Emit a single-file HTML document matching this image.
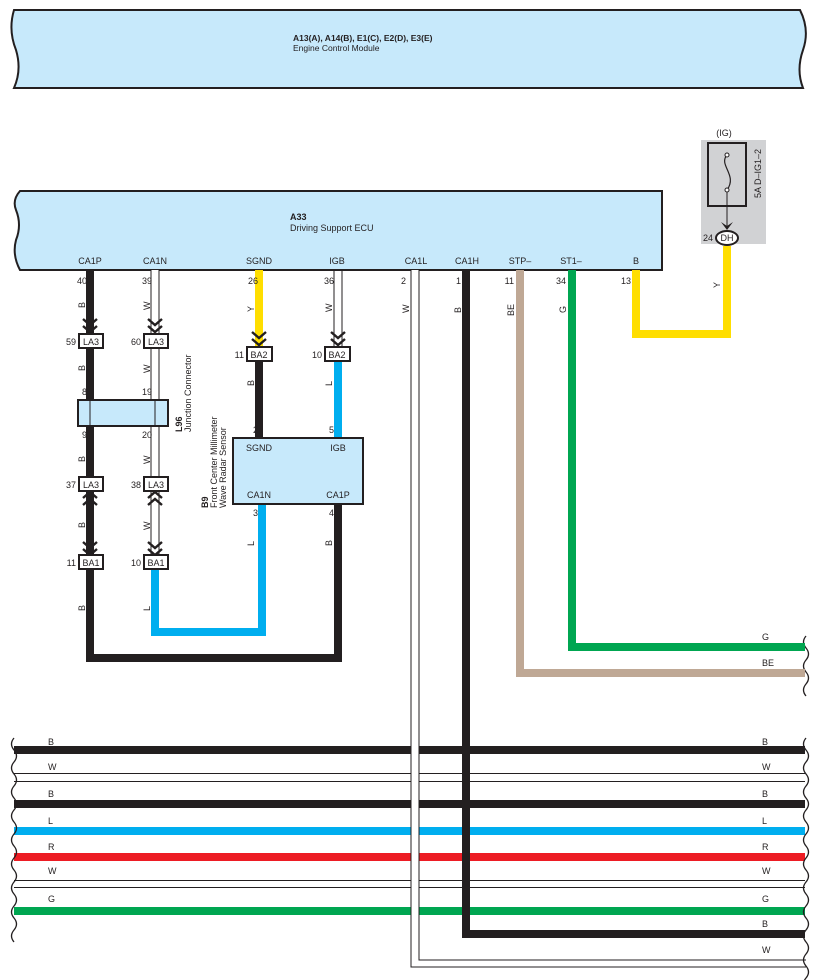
<!DOCTYPE html>
<html><head><meta charset="utf-8"><style>
html,body{margin:0;padding:0;background:#fff}
svg{display:block}
text{font-family:"Liberation Sans",sans-serif;font-size:9px;fill:#231f20}
</style></head><body>
<svg width="818" height="980" viewBox="0 0 818 980" xmlns="http://www.w3.org/2000/svg">
<defs>
<g id="chevD"><polyline points="-7,-13 0,-7 7,-13" fill="none" stroke="#231f20" stroke-width="2.4"/><polyline points="-7,-6 0,0 7,-6" fill="none" stroke="#231f20" stroke-width="2.4"/></g>
<g id="chevU"><polyline points="-7,13 0,7 7,13" fill="none" stroke="#231f20" stroke-width="2.4"/><polyline points="-7,6 0,0 7,6" fill="none" stroke="#231f20" stroke-width="2.4"/></g>
</defs>
<path d="M14,10 L800,10 Q810,30 803,50 Q796,70 803,88 L14,88 Q22,70 16,50 Q8,30 14,10 Z" fill="#c7e9fb" stroke="#231f20" stroke-width="2"/>
<text x="293" y="41" font-weight="bold" style="font-size:8.5px">A13(A), A14(B), E1(C), E2(D), E3(E)</text>
<text x="293" y="51" style="font-size:8.5px">Engine Control Module</text>
<path d="M20,191 L662,191 L662,270 L20,270 Q12,255 16,240 Q22,225 16,210 Q12,200 20,191 Z" fill="#c7e9fb" stroke="#231f20" stroke-width="2"/>
<text x="290" y="220" font-weight="bold">A33</text>
<text x="290" y="231">Driving Support ECU</text>
<g text-anchor="middle">
<text x="90" y="264">CA1P</text><text x="155" y="264">CA1N</text><text x="259" y="264">SGND</text><text x="337" y="264">IGB</text>
<text x="416" y="264">CA1L</text><text x="467" y="264">CA1H</text><text x="520" y="264">STP–</text><text x="571" y="264">ST1–</text><text x="636" y="264">B</text>
</g>
<rect x="701" y="140" width="65" height="104" fill="#d1d2d4"/>
<text x="724" y="136" text-anchor="middle">(IG)</text>
<rect x="708" y="143" width="38" height="63" fill="#d1d2d4" stroke="#231f20" stroke-width="2"/>
<path d="M727,155 C718,165 738,175 727,190" fill="none" stroke="#231f20" stroke-width="1.2"/>
<circle cx="727" cy="155" r="2" fill="#fff" stroke="#231f20"/><circle cx="727" cy="190" r="2" fill="#fff" stroke="#231f20"/>
<line x1="727" y1="192" x2="727" y2="228" stroke="#231f20" stroke-width="1"/>
<polygon points="721,222 727,230 733,222 727,226" fill="#231f20"/>
<text x="761" y="198" transform="rotate(-90 761 198)">5A D–IG1–2</text>
<g stroke-width="8">
<line x1="14" y1="750" x2="805" y2="750" stroke="#231f20"/>
<line x1="14" y1="804" x2="805" y2="804" stroke="#231f20"/>
<line x1="14" y1="831" x2="805" y2="831" stroke="#00aeef"/>
<line x1="14" y1="857" x2="805" y2="857" stroke="#ed1c24"/>
<line x1="14" y1="911" x2="805" y2="911" stroke="#00a651"/>
</g>
<g stroke="#231f20" stroke-width="1">
<line x1="14" y1="773.5" x2="805" y2="773.5"/><line x1="14" y1="781.5" x2="805" y2="781.5"/>
<line x1="14" y1="880.5" x2="805" y2="880.5"/><line x1="14" y1="887.5" x2="805" y2="887.5"/>
</g>
<g fill="none" stroke="#231f20" stroke-width="1.3">
<path d="M14,738 q-5,6 0,12 q5,6 0,12 q-5,6 0,12 q5,6 0,12 q-5,6 0,12 q5,6 0,12 q-5,6 0,12 q5,6 0,12 q-5,6 0,12 q5,6 0,12 q-5,6 0,12 q5,6 0,12 q-5,6 0,12 q5,6 0,12 q-5,6 0,12 q5,6 0,12 q-5,6 0,12"/>
<path d="M806,738 q-5,6 0,12 q5,6 0,12 q-5,6 0,12 q5,6 0,12 q-5,6 0,12 q5,6 0,12 q-5,6 0,12 q5,6 0,12 q-5,6 0,12 q5,6 0,12 q-5,6 0,12 q5,6 0,12 q-5,6 0,12 q5,6 0,12 q-5,6 0,12 q5,6 0,12 q-5,6 0,12 q5,6 0,12 q-5,6 0,12 q5,6 0,12 q-5,6 0,12 q5,6 0,12 q-5,6 0,12"/>
<path d="M806,636 q-5,6 0,12 q5,6 0,12 q-5,6 0,12 q5,6 0,12 q-5,6 0,12"/>
</g>
<g>
<text x="48" y="745">B</text><text x="48" y="770">W</text><text x="48" y="797">B</text><text x="48" y="824">L</text><text x="48" y="850">R</text><text x="48" y="874">W</text><text x="48" y="902">G</text>
<text x="762" y="745">B</text><text x="762" y="770">W</text><text x="762" y="797">B</text><text x="762" y="824">L</text><text x="762" y="850">R</text><text x="762" y="874">W</text><text x="762" y="902">G</text><text x="762" y="927">B</text><text x="762" y="953">W</text>
<text x="762" y="640">G</text><text x="762" y="666">BE</text>
</g>
<rect x="411" y="270" width="8" height="698" fill="#fff"/>
<polyline points="411,270 411,967 806,967" fill="none" stroke="#231f20" stroke-width="1"/>
<polyline points="419,270 419,960 806,960" fill="none" stroke="#231f20" stroke-width="1"/>
<text x="409" y="313" transform="rotate(-90 409 313)">W</text>
<text x="406" y="284" text-anchor="end">2</text>
<polyline points="466,270 466,934 805,934" fill="none" stroke="#231f20" stroke-width="8"/>
<text x="461" y="284" text-anchor="end">1</text>
<text x="461" y="313" transform="rotate(-90 461 313)">B</text>
<polyline points="520,270 520,673 805,673" fill="none" stroke="#bfa895" stroke-width="8"/>
<text x="514" y="284" text-anchor="end">11</text>
<text x="514" y="316" transform="rotate(-90 514 316)">BE</text>
<polyline points="572,270 572,647 805,647" fill="none" stroke="#00a651" stroke-width="8"/>
<text x="566" y="284" text-anchor="end">34</text>
<text x="566" y="313" transform="rotate(-90 566 313)">G</text>
<polyline points="636,270 636,334 727,334 727,246" fill="none" stroke="#ffde00" stroke-width="8"/>
<text x="631" y="284" text-anchor="end">13</text>
<text x="720" y="288" transform="rotate(-90 720 288)">Y</text>
<ellipse cx="727" cy="238" rx="11" ry="7" fill="#fff" stroke="#231f20" stroke-width="2"/>
<text x="727" y="241" text-anchor="middle">DH</text>
<text x="713" y="241" text-anchor="end">24</text>
<polyline points="90,270 90,658 338,658 338,504" fill="none" stroke="#231f20" stroke-width="8"/>
<rect x="151" y="270" width="8" height="295" fill="#fff"/>
<line x1="151" y1="270" x2="151" y2="562" stroke="#231f20"/>
<line x1="159" y1="270" x2="159" y2="562" stroke="#231f20"/>
<polyline points="155,565 155,632 262,632 262,504" fill="none" stroke="#00aeef" stroke-width="8"/>
<line x1="259" y1="270" x2="259" y2="350" stroke="#ffde00" stroke-width="8"/>
<line x1="259" y1="360" x2="259" y2="440" stroke="#231f20" stroke-width="8"/>
<line x1="334" y1="270" x2="334" y2="350" stroke="#231f20"/>
<line x1="342" y1="270" x2="342" y2="350" stroke="#231f20"/>
<line x1="338" y1="360" x2="338" y2="440" stroke="#00aeef" stroke-width="8"/>
<use href="#chevD" x="90" y="332"/><use href="#chevD" x="155" y="332"/>
<use href="#chevD" x="259" y="345"/><use href="#chevD" x="338" y="345"/>
<use href="#chevU" x="90" y="492"/><use href="#chevU" x="155" y="492"/>
<use href="#chevD" x="90" y="555"/><use href="#chevD" x="155" y="555"/>
<rect x="78" y="400" width="90" height="26" fill="#c7e9fb" stroke="#231f20" stroke-width="2"/>
<line x1="90" y1="400" x2="90" y2="426" stroke="#231f20"/><line x1="155" y1="400" x2="155" y2="426" stroke="#231f20"/>
<text x="182" y="432" transform="rotate(-90 182 432)" font-weight="bold">L96</text>
<text x="191" y="432" transform="rotate(-90 191 432)">Junction Connector</text>
<rect x="233" y="438" width="130" height="66" fill="#c7e9fb" stroke="#231f20" stroke-width="2"/>
<text x="259" y="451" text-anchor="middle">SGND</text><text x="338" y="451" text-anchor="middle">IGB</text>
<text x="259" y="498" text-anchor="middle">CA1N</text><text x="338" y="498" text-anchor="middle">CA1P</text>
<text x="208" y="508" transform="rotate(-90 208 508)" font-weight="bold">B9</text>
<text x="217" y="508" transform="rotate(-90 217 508)">Front Center Millimeter</text>
<text x="226" y="508" transform="rotate(-90 226 508)">Wave Radar Sensor</text>
<g fill="#fff" stroke="#231f20" stroke-width="2">
<rect x="79" y="334" width="24" height="14"/><rect x="144" y="334" width="24" height="14"/>
<rect x="247" y="347" width="25" height="14"/><rect x="325" y="347" width="25" height="14"/>
<rect x="79" y="477" width="24" height="14"/><rect x="144" y="477" width="24" height="14"/>
<rect x="79" y="555" width="24" height="14"/><rect x="144" y="555" width="24" height="14"/>
</g>
<g text-anchor="middle">
<text x="91" y="345">LA3</text><text x="156" y="345">LA3</text><text x="259" y="358">BA2</text><text x="337" y="358">BA2</text>
<text x="91" y="488">LA3</text><text x="156" y="488">LA3</text><text x="91" y="566">BA1</text><text x="156" y="566">BA1</text>
</g>
<g text-anchor="end">
<text x="76" y="345">59</text><text x="141" y="345">60</text><text x="244" y="358">11</text><text x="322" y="358">10</text>
<text x="76" y="488">37</text><text x="141" y="488">38</text><text x="76" y="566">11</text><text x="141" y="566">10</text>
<text x="87" y="284">40</text><text x="152" y="284">39</text><text x="258" y="284">26</text><text x="334" y="284">36</text>
<text x="87" y="395">8</text><text x="152" y="395">19</text><text x="87" y="438">9</text><text x="152" y="438">20</text>
<text x="258" y="433">2</text><text x="334" y="433">5</text><text x="258" y="516">3</text><text x="334" y="516">4</text>
</g>
<g>
<text x="85" y="308" transform="rotate(-90 85 308)">B</text><text x="150" y="310" transform="rotate(-90 150 310)">W</text>
<text x="254" y="312" transform="rotate(-90 254 312)">Y</text><text x="332" y="312" transform="rotate(-90 332 312)">W</text>
<text x="85" y="371" transform="rotate(-90 85 371)">B</text><text x="150" y="373" transform="rotate(-90 150 373)">W</text>
<text x="254" y="386" transform="rotate(-90 254 386)">B</text><text x="332" y="386" transform="rotate(-90 332 386)">L</text>
<text x="85" y="462" transform="rotate(-90 85 462)">B</text><text x="150" y="464" transform="rotate(-90 150 464)">W</text>
<text x="85" y="528" transform="rotate(-90 85 528)">B</text><text x="150" y="530" transform="rotate(-90 150 530)">W</text>
<text x="254" y="546" transform="rotate(-90 254 546)">L</text><text x="332" y="546" transform="rotate(-90 332 546)">B</text>
<text x="85" y="611" transform="rotate(-90 85 611)">B</text><text x="150" y="611" transform="rotate(-90 150 611)">L</text>
</g>
</svg>
</body></html>
